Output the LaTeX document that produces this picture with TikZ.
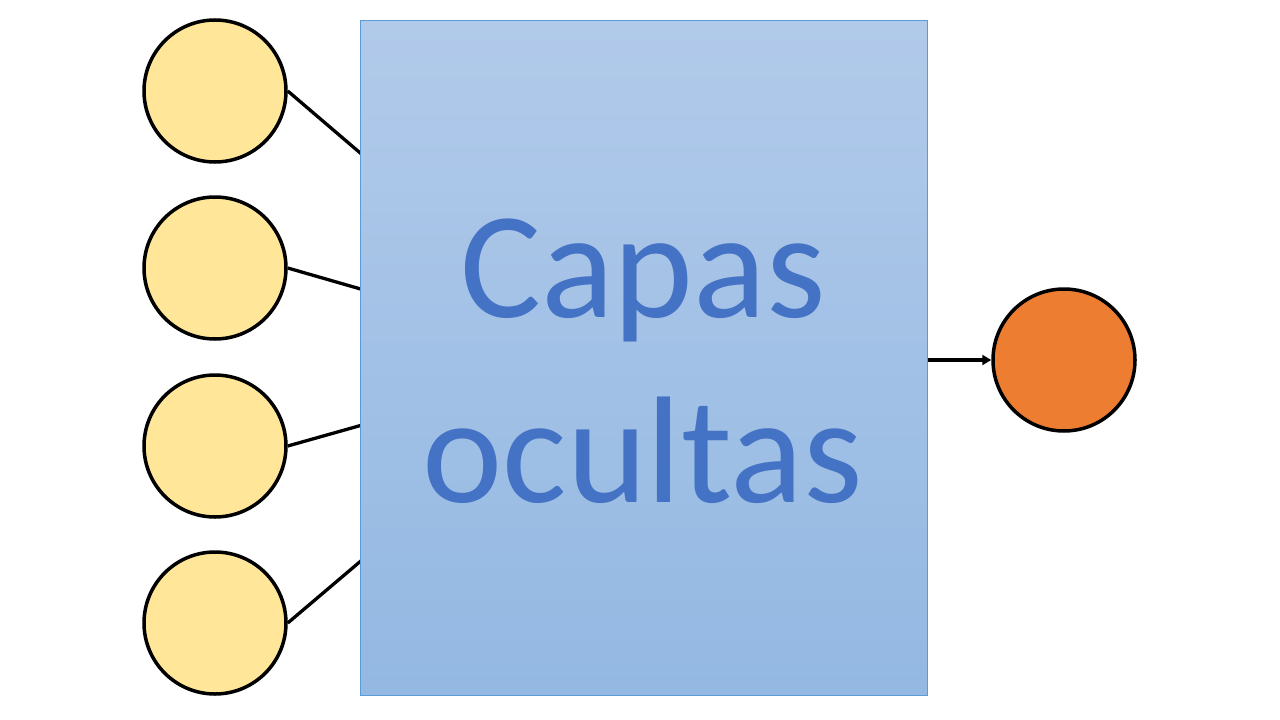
\documentclass[tikz,border=0pt]{standalone}
\usepackage{fontspec}
\setmainfont{Carlito}
\usetikzlibrary{arrows.meta}
\definecolor{inyellow}{HTML}{FFE699}
\definecolor{outorange}{HTML}{ED7D31}
\definecolor{boxtop}{RGB}{177,202,234}
\definecolor{boxbot}{RGB}{147,184,226}
\definecolor{boxedge}{HTML}{5B9BD5}
\definecolor{txtblue}{HTML}{4472C4}
\begin{document}
\begin{tikzpicture}[x=1pt,y=-1pt,
  neuron/.style={circle,draw=black,line width=3.5pt,minimum size=142pt,inner sep=0pt},
  conn/.style={draw=black,line width=3.3pt},
  bigtxt/.style={font=\fontsize{152}{185}\selectfont,align=center,inner sep=0pt}]
\useasboundingbox (0,0) rectangle (1280,720);
\node[neuron,fill=inyellow] (i1) at (215,91) {};
\node[neuron,fill=inyellow] (i2) at (215,268) {};
\node[neuron,fill=inyellow] (i3) at (215,446) {};
\node[neuron,fill=inyellow] (i4) at (215,623) {};
\coordinate (hid) at (600,358);
\draw[conn] (i1.east) -- (hid);
\draw[conn] (i2.east) -- (hid);
\draw[conn] (i3.east) -- (hid);
\draw[conn] (i4.east) -- (hid);
\node[draw=boxedge,line width=1pt,top color=boxtop,bottom color=boxbot,
  minimum width=567pt,minimum height=675pt,inner sep=0pt,anchor=north west] (box) at (360,20) {};
\node[neuron,fill=outorange] (out) at (1064,360) {};
\draw[conn,-{Triangle[length=9pt,width=10pt]}] (box.east|-out) -- (out.west);
\node[bigtxt,text=txtblue] (lbl) at (643,361) {Capas\\ocultas};
\end{tikzpicture}
\end{document}
